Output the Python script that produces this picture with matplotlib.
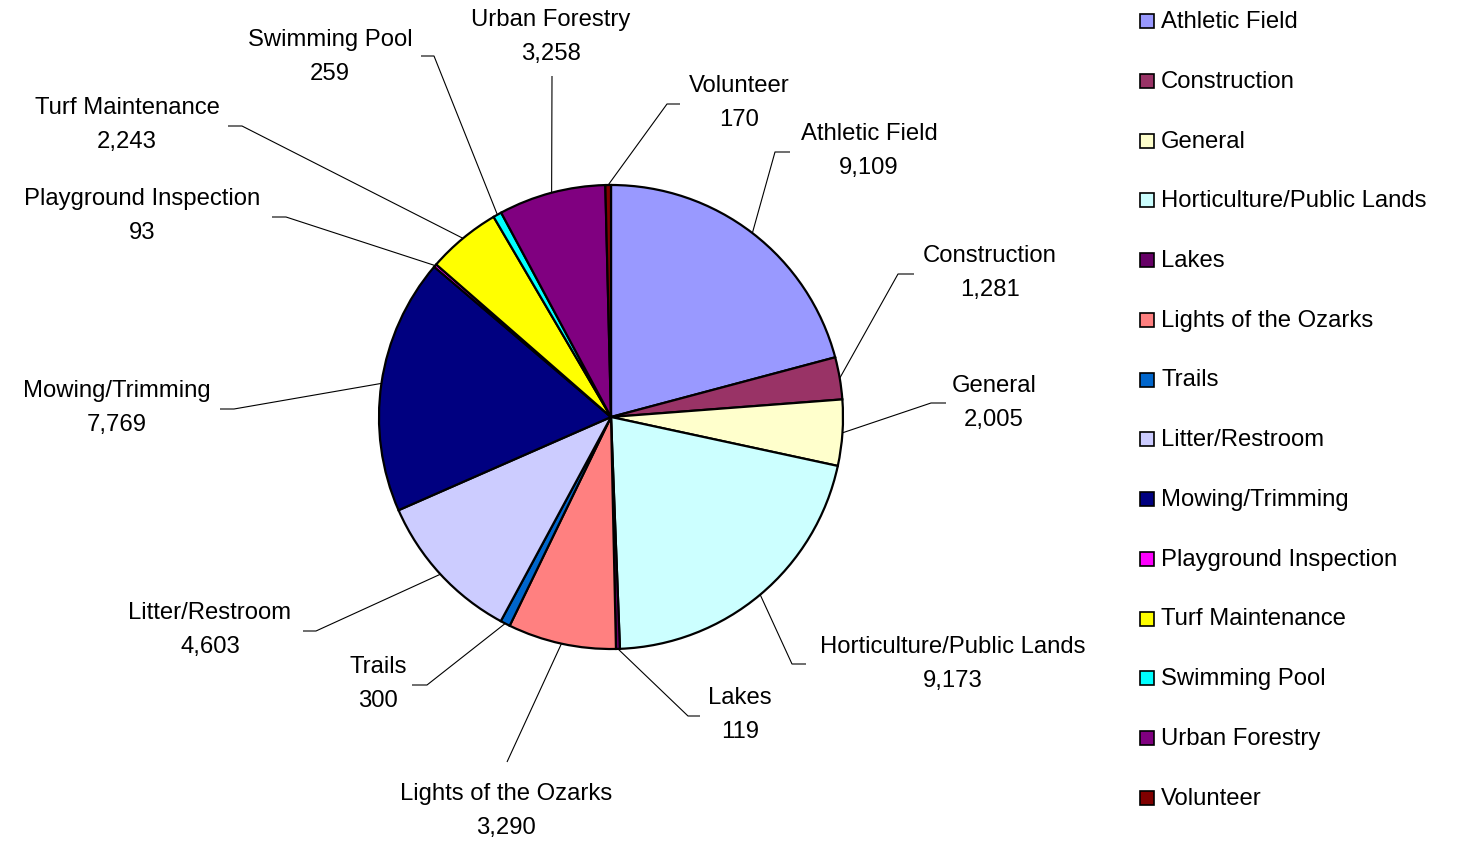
import numpy as np
import matplotlib
matplotlib.use("Agg")
import matplotlib.pyplot as plt
from matplotlib.patches import Rectangle
from matplotlib.transforms import Bbox, TransformedBbox

plt.rcParams['font.family'] = ['Liberation Sans', 'DejaVu Sans']

categories = ["Athletic Field", "Construction", "General", "Horticulture/Public Lands",
              "Lakes", "Lights of the Ozarks", "Trails", "Litter/Restroom",
              "Mowing/Trimming", "Playground Inspection", "Turf Maintenance",
              "Swimming Pool", "Urban Forestry", "Volunteer"]
values = [9109, 1281, 2005, 9173, 119, 3290, 300, 4603, 7769, 93, 2243, 259, 3258, 170]
colors = ["#9999FF", "#993366", "#FFFFCC", "#CCFFFF", "#660066", "#FF8080", "#0066CC",
          "#CCCCFF", "#000080", "#FF00FF", "#FFFF00", "#00FFFF", "#800080", "#800000"]

# layout (pixel coords, y downward)
W, H = 1457, 845
CX, CY, R = 611, 418, 232
label_pos = [(869, 134), (990, 256), (994, 386), (953, 647), (740, 698), (506, 794),
             (378, 667), (210, 613), (117, 391), (142, 199), (127, 108), (330, 40),
             (551, 20), (739, 86)]
elbows = [((775, 153), (790, 153)), ((898, 275), (914, 275)), ((931, 404), (946, 404)),
          ((792, 665), (806, 665)), ((688, 717), (700, 717)), ((507, 763), (507, 763)),
          ((427, 686), (412, 686)), ((316, 632), (303, 632)), ((234, 410), (220, 410)),
          ((286, 218), (272, 218)), ((242, 127), (228, 127)), ((434, 57), (421, 57)),
          ((552, 77), (552, 77)), ((667, 105), (680, 105))]

FS = 17.2
fig = plt.figure(figsize=(W / 100, H / 100), dpi=100)
ax = fig.add_axes([0, 0, 1, 1])

def fy(y):
    return H - y

wedges, _ = ax.pie(values, colors=colors, startangle=90, counterclock=False,
                   center=(CX, fy(CY)), radius=R, frame=True,
                   wedgeprops=dict(edgecolor='black', linewidth=1.6))
ax.set_xlim(0, W)
ax.set_ylim(0, H)
ax.set_aspect('equal', adjustable='datalim')
ax.set_axis_off()

clipbox = TransformedBbox(Bbox([[0, 0], [1094, H]]), ax.transData)

for w, name, val, (lx, ly), (e1, e2) in zip(wedges, categories, values, label_pos, elbows):
    th = np.deg2rad((w.theta1 + w.theta2) / 2)
    sx = CX + R * np.cos(th)
    sy = fy(CY) + R * np.sin(th)
    ax.plot([sx, e1[0], e2[0]], [sy, fy(e1[1]), fy(e2[1])], color='black', lw=0.8,
            solid_capstyle='butt', zorder=1)
    t1 = ax.text(lx, fy(ly), name, ha='center', va='center', fontsize=FS)
    t2 = ax.text(lx, fy(ly + 34), f"{val:,}", ha='center', va='center', fontsize=FS)
    t1.set_clip_box(clipbox)
    t1.set_clip_on(True)

# legend
for i, (name, c) in enumerate(zip(categories, colors)):
    yc = 22 + i * 59.75
    ax.add_patch(Rectangle((1139.5, fy(yc) - 7), 14, 14, facecolor=c, edgecolor='black',
                           lw=1.2, clip_on=False))
    ax.text(1161, fy(yc), name, ha='left', va='center', fontsize=FS)

fig.savefig("out.png", dpi=100)
